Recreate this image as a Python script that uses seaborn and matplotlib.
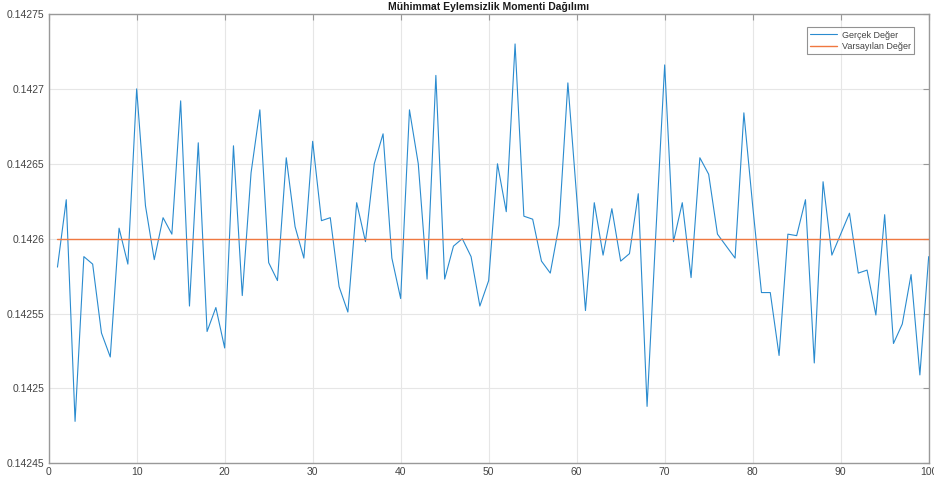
import numpy as np
import pandas as pd
import matplotlib
matplotlib.use("Agg")
import matplotlib.pyplot as plt
import seaborn as sns

# ---- data ----
sample_index = list(range(1, 101))
actual_e6 = [
    142581, 142626, 142478, 142588, 142583, 142537, 142521, 142607, 142583, 142700,
    142622, 142586, 142614, 142603, 142692, 142555, 142664, 142538, 142554, 142527,
    142662, 142562, 142644, 142686, 142584, 142572, 142654, 142608, 142587, 142665,
    142612, 142614, 142568, 142551, 142624, 142598, 142650, 142670, 142587, 142560,
    142686, 142650, 142573, 142709, 142573, 142595, 142600, 142588, 142555, 142572,
    142650, 142618, 142730, 142615, 142613, 142585, 142577, 142609, 142704, 142628,
    142552, 142624, 142589, 142620, 142585, 142590, 142630, 142488, 142604, 142716,
    142598, 142624, 142574, 142654, 142643, 142603, 142595, 142587, 142684, 142622,
    142564, 142564, 142522, 142603, 142602, 142626, 142517, 142638, 142589, 142603,
    142617, 142577, 142579, 142549, 142616, 142530, 142543, 142576, 142509, 142588,
]
actual_values = [v / 1e6 for v in actual_e6]
default_value = 0.1426
default_values = [default_value] * len(sample_index)

series_names = ["Gerçek Değer", "Varsayılan Değer"]
series_colors = ["#2A8BCF", "#F07840"]
title_text = "Mühimmat Eylemsizlik Momenti Dağılımı"
x_ticks = [0, 10, 20, 30, 40, 50, 60, 70, 80, 90, 100]
y_ticks = [0.14245, 0.1425, 0.14255, 0.1426, 0.14265, 0.1427, 0.14275]
y_tick_labels = ["0.14245", "0.1425", "0.14255", "0.1426", "0.14265", "0.1427", "0.14275"]

actual_df = pd.DataFrame({"x": sample_index, "y": actual_values})
default_df = pd.DataFrame({"x": sample_index, "y": default_values})

sns.set_theme(style="white")
plt.rcParams["font.family"] = ["Liberation Sans", "DejaVu Sans"]

fig = plt.figure(figsize=(9.34, 4.86), dpi=100)
ax = fig.add_axes([0.0521, 0.0467, 0.9422, 0.9245])

ax.grid(True, color="#e6e6e6", linewidth=0.8, zorder=0)
ax.set_axisbelow(True)

sns.lineplot(data=actual_df, x="x", y="y", color=series_colors[0], linewidth=0.8,
             errorbar=None, label=series_names[0], ax=ax, zorder=3)
sns.lineplot(data=default_df, x="x", y="y", color=series_colors[1], linewidth=1.0,
             errorbar=None, label=series_names[1], ax=ax, zorder=4)

ax.set_xlim(0, 100)
ax.set_ylim(0.14245, 0.14275)
ax.set_xticks(x_ticks)
ax.set_xticklabels([str(t) for t in x_ticks])
ax.set_yticks(y_ticks)
ax.set_yticklabels(y_tick_labels)
ax.set_xlabel("")
ax.set_ylabel("")

for s in ax.spines.values():
    s.set_visible(True)
    s.set_color("#999999")
    s.set_linewidth(1.0)
ax.tick_params(axis="both", which="both", direction="in", length=4, width=0.8,
               color="#999999", labelsize=7.5, labelcolor="#444444",
               top=True, right=True, pad=3)

ax.set_title(title_text, fontsize=7.5, fontweight="bold", color="#1a1a1a", pad=3)

leg = ax.legend(loc="upper right", fontsize=6.5, frameon=True, fancybox=False,
                handlelength=3.0, borderpad=0.35, labelspacing=0.25,
                handletextpad=0.5, bbox_to_anchor=(0.9885, 0.98))
leg.get_frame().set_edgecolor("#777777")
leg.get_frame().set_linewidth(0.8)
for t in leg.get_texts():
    t.set_color("#444444")

fig.savefig("out.png", dpi=100)
